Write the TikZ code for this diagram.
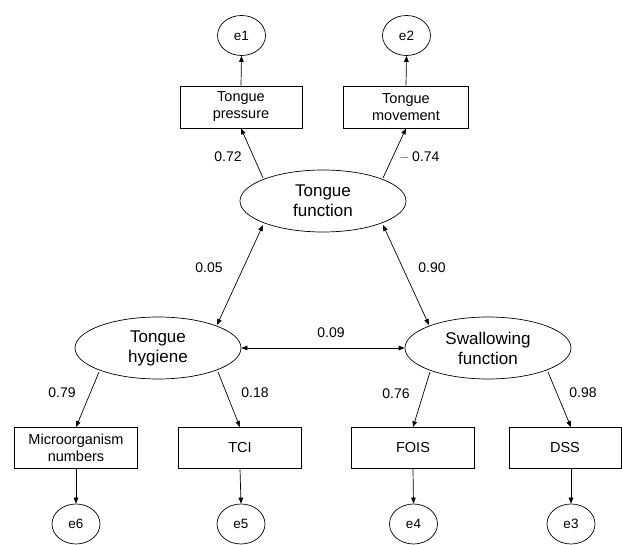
\documentclass[tikz,border=0pt]{standalone}
\usepackage{fontspec}
\setmainfont{Liberation Sans}
\usetikzlibrary{shapes.geometric,arrows.meta}
\begin{document}
\begin{tikzpicture}[x=1pt,y=-1pt,
  lat/.style={draw,ellipse,minimum width=166pt,minimum height=62pt,inner sep=0pt,align=center,font=\fontsize{17}{20}\selectfont},
  obs/.style={draw,rectangle,minimum width=123pt,minimum height=41pt,inner sep=0pt,align=center,font=\fontsize{14.5}{17}\selectfont},
  err/.style={draw,ellipse,minimum width=48pt,minimum height=40pt,inner sep=0pt,font=\fontsize{13.5}{15}\selectfont},
  lbl/.style={font=\fontsize{14}{16}\selectfont,inner sep=0pt},
  arr/.style={-{Triangle[length=6pt,width=4.5pt]},line width=0.7pt},
  dbl/.style={{Triangle[length=6pt,width=4.5pt]}-{Triangle[length=6pt,width=4.5pt]},line width=0.7pt},
  every node/.style={line width=0.7pt}]
\useasboundingbox (0,0) rectangle (622,545);
% latent
\node[lat] (tf) at (323,201) {Tongue\\function};
\node[lat] (th) at (158,348) {Tongue\\hygiene};
\node[lat] (sf) at (488,348) {Swallowing\\function};
% observed
\node[obs,minimum width=122pt,minimum height=42pt] (tp) at (241,107) {Tongue\\pressure};
\node[obs,minimum width=125pt,minimum height=42pt] (tm) at (406,107) {Tongue\\movement};
\node[obs] (mn) at (76,448) {Microorganism\\numbers};
\node[obs] (tci) at (240,448) {TCI};
\node[obs] (fois) at (413,448) {FOIS};
\node[obs,minimum width=112pt] (dss) at (565,448) {DSS};
% errors
\node[err] (e1) at (241.5,35.5) {e1};
\node[err] (e2) at (406.5,35.5) {e2};
\node[err] (e6) at (76,524) {e6};
\node[err] (e5) at (241,524) {e5};
\node[err] (e4) at (413.5,524) {e4};
\node[err] (e3) at (571,524) {e3};
% loadings
\coordinate (tfa) at (263,178);
\coordinate (tfb) at (383,178);
\draw[arr] (tfa) -- (tp.south);
\draw[arr] (tfb) -- (tm.south);
\draw[arr] (tp.north) -- (e1.south);
\draw[arr] (tm.north) -- (e2.south);
\coordinate (tha) at (99,372);
\coordinate (thb) at (218,372);
\coordinate (sfa) at (430,372);
\coordinate (sfb) at (548,372);
\draw[arr] (tha) -- (mn.north);
\draw[arr] (thb) -- (tci.north);
\draw[arr] (sfa) -- (fois.north);
\draw[arr] (sfb) -- (dss.north -| e3);
\draw[arr] (mn.south) -- (e6.north);
\draw[arr] (tci.south) -- (e5.north);
\draw[arr] (fois.south) -- (e4.north);
\draw[arr] (dss.south -| e3) -- (e3.north);
% correlations
\coordinate (c1a) at (263,225);
\coordinate (c1b) at (217,325);
\coordinate (c2a) at (383,225);
\coordinate (c2b) at (429,325);
\draw[dbl] (c1a) -- (c1b);
\draw[dbl] (c2a) -- (c2b);
\draw[dbl] (th.east) -- (sf.west);
% labels
\node[lbl] (l72) at (228,157) {0.72};
\node[lbl] (l74) at (420,157) {{\color{gray}–} 0.74};
\node[lbl] (l05) at (209,268) {0.05};
\node[lbl] (l90) at (432,268) {0.90};
\node[lbl] (l09) at (331,333) {0.09};
\node[lbl] (l79) at (62,393) {0.79};
\node[lbl] (l18) at (255,393) {0.18};
\node[lbl] (l76) at (396,394) {0.76};
\node[lbl] (l98) at (583,393) {0.98};
\end{tikzpicture}
\end{document}
